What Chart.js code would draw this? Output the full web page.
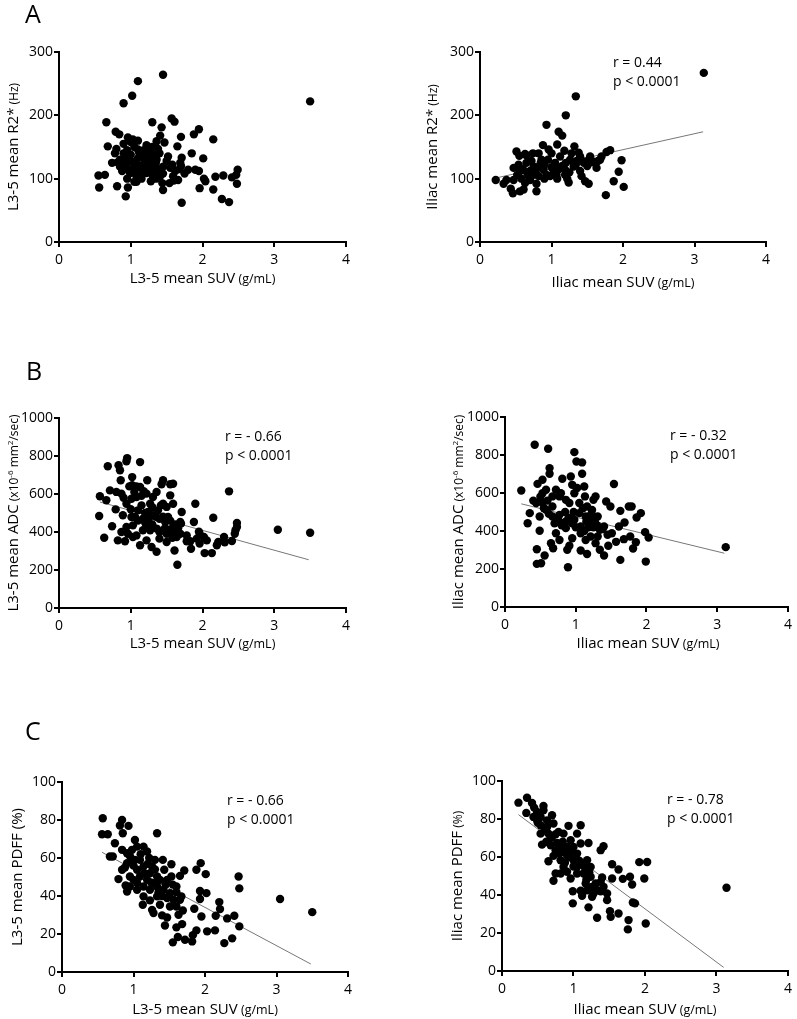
<!DOCTYPE html>
<html>
<head>
<meta charset="utf-8">
<script src="https://cdn.jsdelivr.net/npm/chart.js@4.4.1/dist/chart.umd.min.js"></script>
<style>
  html, body { margin: 0; padding: 0; background: #fff; }
  body { width: 797px; height: 1019px; position: relative; overflow: hidden; }
  .panel { position: absolute; }
  .panel canvas { display: block; }
</style>
</head>
<body>
<script>
// Scatter data: [SUV (g/mL), value]
const r2L3 = [
  [1.45,264],[1.10,254],[1.02,231],[0.90,219],[3.50,222],[0.66,189],[1.30,189],[1.57,195],[1.61,190],[1.43,181],
  [1.41,168],[0.79,174],[0.84,170],[1.95,178],[1.88,170],[1.70,166],[2.15,162],[0.96,165],[1.03,162],[0.68,151],
  [0.80,147],[1.65,151],[1.22,153],[1.47,157],[1.36,159],[1.85,140],[2.01,132],[1.71,133],[1.52,135],[0.74,125],
  [0.93,133],[0.85,119],[1.10,146],[1.17,135],[1.27,125],[1.36,130],[1.45,119],[1.55,117],[1.69,125],[1.80,114],
  [1.90,114],[1.95,112],[2.49,114],[0.55,105],[0.64,106],[2.18,103],[2.29,105],[2.41,102],[2.47,106],[2.02,100],
  [0.99,109],[1.08,104],[1.22,109],[1.31,104],[1.41,104],[1.59,104],[1.66,98],[1.54,93],[0.56,86],[0.81,88],
  [0.96,86],[1.08,95],[1.28,96],[1.44,93],[2.04,96],[1.96,85],[2.15,83],[1.45,82],[2.48,92],[0.93,72],
  [2.27,68],[2.37,63],[1.71,62],
  [0.85,130],[0.90,140],[0.95,145],[1.00,128],[1.00,138],[1.05,122],[1.05,150],[1.10,115],[1.10,132],[1.12,140],
  [1.15,120],[1.15,110],[1.20,118],[1.20,128],[1.25,113],[1.25,140],[1.30,120],[1.30,150],[1.32,110],[1.35,125],
  [1.38,115],[1.40,140],[1.42,112],[0.92,122],[0.88,112],[0.98,115],[1.02,110],[1.08,125],[1.18,145],[1.28,132],
  [1.33,138],[1.50,128],[1.58,122],[1.62,112],[1.68,115],[1.70,120],[1.75,108],[1.60,97],[0.95,100],[1.05,95],
  [1.15,100],[1.35,100],[1.45,108],[1.30,115],[1.22,125],[0.82,126],[0.78,140],[0.90,155],[1.00,158],[1.10,160],
  [1.20,142],[1.27,148],[1.38,147]
];
const r2Iliac = [
  [3.13,267],[1.34,230],[1.20,200],[0.93,185],[1.10,174],[1.15,168],[1.82,145],[1.77,142],[1.32,151],[1.08,154],
  [0.88,153],[0.96,146],[0.51,143],[0.63,139],[0.74,140],[1.18,144],[1.70,135],[1.54,135],[1.40,135],[1.98,129],
  [1.68,130],[1.58,127],[1.47,127],[1.34,122],[1.26,130],[1.05,125],[0.86,130],[0.54,122],[0.65,125],[1.63,117],
  [1.40,112],[1.94,111],[0.47,117],[0.56,112],[0.75,119],[0.89,114],[1.03,112],[1.19,114],[1.31,119],[1.42,104],
  [1.47,96],[1.52,92],[1.24,94],[1.87,96],[2.01,87],[1.76,74],[0.22,98],[0.33,92],[0.37,98],[0.47,98],
  [0.63,93],[0.70,98],[0.79,92],[0.79,80],[0.61,83],[0.43,84],[0.46,77],[0.56,80],[0.82,104],[0.93,106],
  [1.07,106],[1.19,106],[0.52,106],[0.66,109],[0.75,106],
  [0.60,115],[0.70,112],[0.80,118],[0.90,122],[0.95,130],[1.00,118],[1.05,110],[1.10,115],[1.15,120],[1.20,125],
  [1.25,110],[1.30,126],[1.00,140],[1.12,135],[0.85,125],[0.72,128],[0.58,100],[0.68,104],[0.78,110],[1.35,128],
  [1.45,125],[1.50,120],[1.60,126],[0.98,104],[1.08,100],[1.22,100],[0.90,100],[0.65,137],[0.55,136],[0.82,140],
  [1.28,140],[1.38,141],[1.55,126],[1.65,128]
];
const adcL3 = [
  [3.50,396],[3.05,412],[2.37,614],[2.48,447],[2.48,426],[2.46,409],[2.45,391],[2.41,353],[2.30,374],[2.31,346],
  [2.20,330],[2.15,475],[2.13,289],[2.03,289],[2.02,374],[1.90,549],[1.88,453],[1.95,402],[1.92,365],[1.84,312],
  [1.83,351],[1.65,228],[1.71,505],[1.70,444],[1.59,654],[1.55,651],[1.45,672],[1.43,651],[1.13,768],[0.95,789],
  [0.94,772],[0.83,751],[0.68,746],[0.85,725],[0.86,672],[1.02,689],[1.23,672],[1.13,637],[1.02,646],[1.22,602],
  [1.36,611],[1.31,584],[0.57,588],[0.56,484],[0.66,567],[0.71,619],[0.80,611],[0.87,602],[0.79,519],[0.74,430],
  [0.63,370],[0.82,356],[0.92,351],[1.03,374],[1.13,330],[1.22,356],[1.29,321],[1.36,296],[1.50,347],[1.61,303],
  [1.69,391],[1.55,409],[0.94,426],[0.87,400],[1.03,435],[1.10,514],[0.94,549],[1.01,575],[1.08,584],[1.15,540],
  [1.27,549],[1.38,514],[1.50,532],[1.52,479],[1.40,470],[1.31,488],[1.17,470],[1.06,479],[1.36,418],[1.27,409],
  [1.17,409],[1.45,409],[1.59,426],[1.64,374],[1.78,382],[1.40,365],[1.24,505],[1.01,479],[0.89,488],[1.55,593],
  [1.45,549],[1.59,549],[1.48,453],[1.69,453],[1.22,435],[1.08,382],[0.96,391],[1.78,351],[2.06,356],[2.22,347],
  [1.96,339],[1.96,391],
  [1.00,520],[1.10,460],[1.20,450],[1.30,440],[1.40,400],[1.50,390],[1.60,400],[1.20,500],[1.05,610],[1.15,590],
  [1.25,470],[1.35,480],[1.45,480],[1.55,460],[1.62,440],[0.90,580],[0.98,640],[1.08,640],[1.18,615],[1.30,530],
  [1.42,540],[1.48,420],[1.58,370],[1.66,420]
];
const adcIliac = [
  [3.12,315],[0.42,854],[0.61,833],[0.98,815],[1.01,766],[1.09,761],[1.09,701],[0.63,731],[0.63,701],[1.12,634],
  [1.54,647],[0.23,613],[0.46,648],[0.53,670],[0.81,675],[0.93,687],[0.95,643],[0.58,617],[0.72,617],[0.79,599],
  [0.98,599],[1.13,582],[1.25,564],[1.43,555],[1.49,529],[1.63,506],[1.79,529],[1.75,529],[1.92,494],[1.86,471],
  [1.61,424],[1.69,445],[1.51,388],[1.34,406],[1.98,394],[2.03,366],[1.77,371],[1.85,341],[1.81,308],[1.68,357],
  [1.57,343],[1.46,322],[1.40,271],[1.63,248],[1.99,239],[1.34,301],[1.16,279],[1.07,297],[0.88,301],[0.91,322],
  [0.65,336],[0.68,309],[0.56,271],[0.45,304],[0.45,227],[0.51,230],[0.89,209],[0.32,441],[0.35,494],[0.49,401],
  [0.44,547],[0.58,512],[0.67,476],[0.72,388],[0.77,353],[0.86,415],[0.98,459],[1.05,494],[1.14,476],[1.21,441],
  [1.07,388],[0.95,362],[0.86,450],[0.77,485],[0.67,529],[0.53,547],[0.49,476],[1.21,371],[1.28,336],[1.14,353],
  [1.31,371],[1.40,424],[1.25,476],[1.16,529],[1.23,511],[1.28,582],[1.31,476],[0.77,582],[0.86,564],[0.91,547],
  [1.05,547],[0.67,582],[0.53,599],[1.02,626],[1.07,424],[0.81,441],
  [1.15,450],[1.20,470],[1.18,420],[1.12,400],[1.00,420],[0.95,440],[0.90,470],[0.85,500],[0.75,460],[0.70,440],
  [0.62,490],[0.55,520],[0.60,560],[1.25,420],[1.30,430],[1.22,490],[0.80,430],[0.50,580],[0.40,560],[1.10,520],
  [1.38,410],[1.45,380],[0.97,500],[1.27,450]
];
const pdffL3 = [
  [3.50,31.5],[3.05,38.4],[2.47,50.3],[2.48,44.0],[2.48,24.0],[2.41,29.6],[2.31,28.2],[2.38,17.7],[2.27,15.2],[2.20,36.8],
  [2.21,33.1],[2.15,29.6],[2.14,21.9],[2.03,21.4],[2.01,51.5],[1.94,57.3],[1.93,42.6],[2.02,41.5],[1.93,38.4],[1.95,29.2],
  [1.88,53.8],[1.85,33.3],[1.88,21.9],[1.83,19.4],[1.82,16.1],[1.72,17.0],[1.68,25.2],[1.60,23.5],[1.55,15.6],[1.62,18.4],
  [1.69,32.4],[1.63,30.1],[1.71,53.4],[1.65,50.6],[1.53,56.7],[1.33,73.0],[0.57,80.9],[0.56,72.5],[0.64,72.5],[0.84,80.0],
  [0.93,76.9],[0.81,77.1],[0.85,73.0],[0.74,67.8],[0.67,60.8],[0.71,60.8],[0.79,48.9],[0.91,42.4],[0.89,45.5],[1.13,35.4],
  [1.26,32.7],[1.28,31.0],[1.40,29.8],[1.47,28.7],[1.44,24.5],[1.23,37.7],[1.02,69.5],[1.05,66.0],[1.14,66.0],[0.98,64.3],
  [0.84,64.3],[0.91,62.5],[1.19,63.4],[1.30,59.0],[1.41,59.0],[1.53,50.3],[1.43,53.8],[1.02,59.0],[0.91,57.3],[0.84,53.8],
  [0.95,50.3],[1.05,53.8],[1.14,55.5],[1.23,52.0],[1.33,50.3],[1.05,43.3],[1.14,45.0],[1.23,43.3],[1.33,45.0],[1.42,43.3],
  [1.51,41.5],[1.60,45.0],[1.67,39.8],[1.56,38.0],[1.47,38.9],[1.33,39.8],[1.37,35.4],[1.65,38.0],[1.60,34.5],[1.51,34.5],
  [0.98,59.0],[1.09,59.0],[1.26,55.5],[1.19,48.5],[1.28,46.8],[1.37,48.5],[1.47,48.5],[1.09,50.3],[1.00,48.5],[0.95,45.0],
  [1.14,39.8],
  [1.10,62],[1.20,57],[1.25,47],[1.35,42],[1.00,56],[0.95,61],[1.15,52],[1.30,54],[1.40,40],[1.55,46],
  [1.60,42],[1.05,47],[0.88,55],[1.22,60],[1.45,46]
];
const pdffIliac = [
  [3.14,43.8],[0.23,88.6],[0.35,91.2],[0.34,83.2],[0.42,88.4],[0.58,86.9],[0.70,82.0],[2.03,57.4],[1.92,57.3],[1.99,48.7],
  [2.01,25.0],[1.77,26.8],[1.76,21.9],[1.86,35.6],[1.83,36.1],[1.82,45.5],[1.79,49.6],[1.69,48.5],[1.63,53.4],[1.54,56.2],
  [1.54,48.7],[1.63,30.3],[1.52,28.5],[1.51,31.5],[1.33,28.0],[1.47,37.3],[1.47,40.8],[1.38,42.0],[1.38,46.9],[1.40,49.2],
  [1.42,65.7],[1.38,63.6],[1.21,33.5],[1.10,42.2],[1.12,39.6],[0.99,42.0],[0.99,35.6],[1.10,76.7],[0.93,76.4],[1.21,67.4],
  [1.10,67.1],[0.72,47.5],[0.75,51.3],[0.65,57.8],[0.72,60.6],[0.82,58.3],[0.86,54.8],[0.91,52.2],[0.96,48.7],[0.82,51.3],
  [1.00,58.3],[1.05,61.8],[1.00,65.3],[0.96,68.8],[0.86,72.3],[0.79,73.2],[0.65,72.3],[0.54,72.3],[0.56,66.5],[0.68,66.2],
  [0.77,67.4],[0.91,65.3],[0.54,76.7],[0.49,79.3],[0.54,81.1],[0.49,83.7],[0.58,84.6],[0.44,81.1],[0.63,79.3],[0.72,77.6],
  [0.63,75.8],[0.70,70.6],[0.91,60.9],[1.10,56.6],[1.19,58.3],[1.24,54.8],[1.14,51.3],[1.24,49.6],[1.31,46.1],[1.26,44.3],
  [1.19,42.5],[1.17,46.1],[1.05,51.3],[1.05,54.8],[0.96,62.6],[0.86,62.6],[0.75,63.6],[1.05,72.3],[0.82,66.2],[1.33,42.5],
  [1.28,40.8],[1.42,44.3],[1.26,39.1],
  [0.50,78],[0.60,74],[0.68,70],[0.45,86],[0.52,82],[0.62,68],[0.75,72],[0.85,68],[0.95,60],[1.00,55],
  [1.08,58],[1.15,55],[1.18,48],[1.22,52],[0.88,57],[0.80,62]
];

// Regression line end points
const r2IliacFit = [[0.22,101],[3.12,174]];
const adcL3Fit = [[0.57,558],[3.48,254]];
const adcIliacFit = [[0.23,543],[3.10,283]];
const pdffL3Fit = [[0.56,63.0],[3.48,4.2]];
const pdffIliacFit = [[0.23,82.3],[3.10,1.9]];

// Axis ticks
const suvTicks = [0, 1, 2, 3, 4];
const r2Ticks = [0, 100, 200, 300];
const adcTicks = [0, 200, 400, 600, 800, 1000];
const pdffTicks = [0, 20, 40, 60, 80, 100];

// Correlation labels
const rLabels = ['', 'r = 0.44', 'r = - 0.66', 'r = - 0.32', 'r = - 0.66', 'r = - 0.78'];
const pLabel = 'p < 0.0001';

const FONT = "'Open Sans', 'DejaVu Sans', sans-serif";
const Y_AXIS_W = 45;
const X_AXIS_H = 30;

const suvL3 = [{ t: 'L3-5 mean SUV', s: 15 }, { t: ' (g/mL)', s: 12.5 }];
const suvIliac = [{ t: 'Iliac mean SUV', s: 15 }, { t: ' (g/mL)', s: 12.5 }];
const adcUnit = [{ t: ' (x10', s: 12 }, { t: '-6', s: 8, r: 5 }, { t: ' mm', s: 12 }, { t: '2', s: 8, r: 5 }, { t: '/sec)', s: 12 }];

// box = canvas position on page, area = plot area on page [left, top, right, bottom]
const panels = [
  { box: [0, 0, 398, 300], area: [59, 52, 346, 242], pts: r2L3, fit: null, yTicks: r2Ticks,
    xTitle: suvL3, xBase: 283, yTitle: [{ t: 'L3-5 mean R2*', s: 15 }, { t: ' (Hz)', s: 12 }], yBase: 18,
    note: null, letter: ['A', 25, 23] },
  { box: [398, 0, 399, 300], area: [480, 52, 766, 242], pts: r2Iliac, fit: r2IliacFit, yTicks: r2Ticks,
    xTitle: suvIliac, xBase: 287, yTitle: [{ t: 'Iliac mean R2*', s: 15 }, { t: ' (Hz)', s: 12 }], yBase: 437,
    note: [rLabels[1], 613, 63, 82] },
  { box: [0, 300, 398, 360], area: [59, 418, 346, 608], pts: adcL3, fit: adcL3Fit, yTicks: adcTicks,
    xTitle: suvL3, xBase: 648, yTitle: [{ t: 'L3-5 mean ADC', s: 15 }].concat(adcUnit), yBase: 18,
    note: [rLabels[2], 225, 437, 456], letter: ['B', 26, 380] },
  { box: [398, 300, 399, 360], area: [505, 417, 791, 607], pts: adcIliac, fit: adcIliacFit, yTicks: adcTicks,
    xTitle: suvIliac, xBase: 648, yTitle: [{ t: 'Iliac mean ADC', s: 15 }].concat(adcUnit), yBase: 463,
    note: [rLabels[3], 670, 436, 455] },
  { box: [0, 660, 398, 359], area: [62, 782, 348, 972], pts: pdffL3, fit: pdffL3Fit, yTicks: pdffTicks,
    xTitle: suvL3, xBase: 1014, yTitle: [{ t: 'L3-5 mean PDFF (%)', s: 15 }], yBase: 22,
    note: [rLabels[4], 227, 801, 820], letter: ['C', 25, 740] },
  { box: [398, 660, 399, 359], area: [502, 781, 788, 971], pts: pdffIliac, fit: pdffIliacFit, yTicks: pdffTicks,
    xTitle: suvIliac, xBase: 1014, yTitle: [{ t: 'Iliac mean PDFF', s: 15 }, { t: ' (%)', s: 12 }], yBase: 462,
    note: [rLabels[5], 667, 800, 819] }
];

function drawRuns(ctx, runs, cx, base) {
  let total = 0;
  runs.forEach(r => { ctx.font = r.s + 'px ' + FONT; total += ctx.measureText(r.t).width; });
  let x = cx - total / 2;
  runs.forEach(r => {
    ctx.font = r.s + 'px ' + FONT;
    ctx.fillText(r.t, x, base - (r.r || 0));
    x += ctx.measureText(r.t).width;
  });
}

function textPlugin(p) {
  const [bx, by] = p.box;
  const [L, T, R, B] = p.area;
  return {
    id: 'panelText',
    afterDraw(chart) {
      const ctx = chart.ctx;
      ctx.save();
      ctx.fillStyle = '#000';
      ctx.textAlign = 'left';
      ctx.textBaseline = 'alphabetic';
      drawRuns(ctx, p.xTitle, (L + R) / 2 - bx, p.xBase - by);
      ctx.save();
      ctx.translate(p.yBase - bx, (T + B) / 2 - by);
      ctx.rotate(-Math.PI / 2);
      drawRuns(ctx, p.yTitle, 0, 0);
      ctx.restore();
      if (p.note) {
        ctx.font = '14px ' + FONT;
        ctx.textBaseline = 'middle';
        ctx.fillText(p.note[0], p.note[1] - bx, p.note[2] - by);
        ctx.fillText(pLabel, p.note[1] - bx, p.note[3] - by);
      }
      if (p.letter) {
        ctx.font = '25px ' + FONT;
        ctx.textBaseline = 'alphabetic';
        ctx.fillText(p.letter[0], p.letter[1] - bx, p.letter[2] - by);
      }
      ctx.restore();
    }
  };
}

function axis(ticks, padding) {
  return {
    type: 'linear',
    min: ticks[0],
    max: ticks[ticks.length - 1],
    afterBuildTicks: s => { s.ticks = ticks.map(v => ({ value: v })); },
    ticks: {
      color: '#000',
      font: { family: FONT, size: 14 },
      padding: padding,
      autoSkip: false,
      maxRotation: 0,
      callback: v => String(v)
    },
    grid: { drawOnChartArea: false, drawTicks: true, tickLength: 5, color: '#000', lineWidth: 2 },
    border: { display: true, color: '#000', width: 2 }
  };
}

panels.forEach(p => {
  const [bx, by, bw, bh] = p.box;
  const [L, T, R, B] = p.area;
  const div = document.createElement('div');
  div.className = 'panel';
  div.style.left = bx + 'px';
  div.style.top = by + 'px';
  div.style.width = bw + 'px';
  div.style.height = bh + 'px';
  const cv = document.createElement('canvas');
  div.appendChild(cv);
  document.body.appendChild(div);

  const datasets = [{
    data: p.pts.map(([x, y]) => ({ x, y })),
    backgroundColor: '#000',
    borderColor: '#000',
    borderWidth: 0,
    pointRadius: 4.2,
    order: 1
  }];
  if (p.fit) {
    datasets.push({
      data: p.fit.map(([x, y]) => ({ x, y })),
      showLine: true,
      borderColor: '#777',
      borderWidth: 1,
      pointRadius: 0,
      order: 2
    });
  }

  const xAxis = axis(suvTicks, 5);
  xAxis.afterFit = s => { s.height = X_AXIS_H; };
  const yAxis = axis(p.yTicks, 1);
  yAxis.afterFit = s => { s.width = Y_AXIS_W; };

  new Chart(cv, {
    type: 'scatter',
    data: { datasets },
    options: {
      responsive: true,
      maintainAspectRatio: false,
      animation: false,
      layout: {
        padding: {
          left: L - bx - Y_AXIS_W,
          top: T - by,
          right: bx + bw - R,
          bottom: by + bh - B - X_AXIS_H
        }
      },
      scales: { x: xAxis, y: yAxis },
      plugins: { legend: { display: false }, tooltip: { enabled: false } }
    },
    plugins: [textPlugin(p)]
  });
});
</script>
</body>
</html>
